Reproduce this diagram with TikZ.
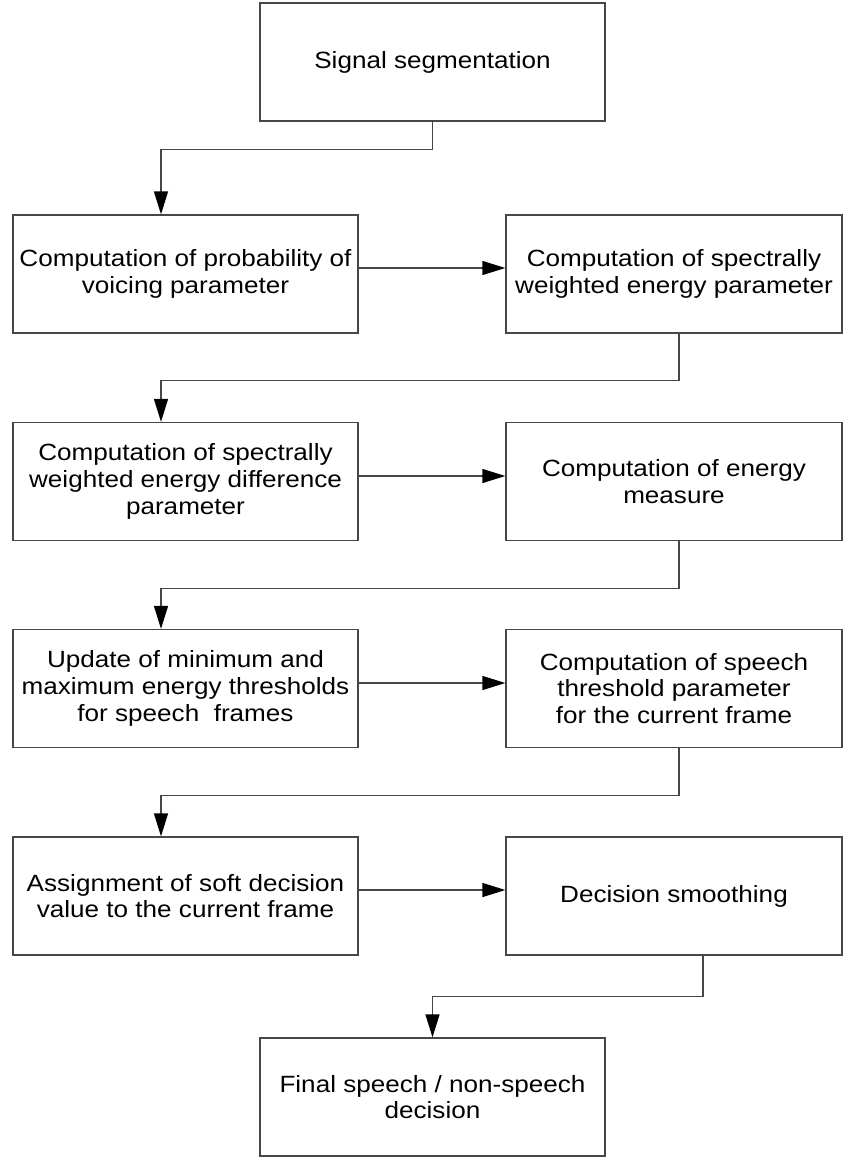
\documentclass[tikz,border=0pt]{standalone}
\usepackage{fontspec}
\setmainfont{Liberation Sans}[FakeStretch=1.11]
\usetikzlibrary{arrows.meta}
\begin{document}
\begin{tikzpicture}[x=1pt,y=-1pt,
  line width=1.3pt,
  proc/.style={draw=black!72, fill=white, rectangle, align=center, inner sep=0pt,
    font=\fontsize{23.5}{26.7}\selectfont, minimum height=118pt},
  wide/.style={minimum width=345pt},
  narrow/.style={minimum width=336pt},
  link/.style={draw=black!72},
  arr/.style={link, -{Triangle[length=23pt 0,width=14pt 0,color=black,fill=black]}}]
\useasboundingbox (0,0) rectangle (843,1157);

% process steps
\node[proc,wide]   (seg)  at (432.5,62)   {Signal segmentation};
\node[proc,wide]   (voic) at (185.5,274)  {Computation of probability of\\voicing parameter};
\node[proc,narrow] (swe)  at (674,274)    {Computation of spectrally\\weighted energy parameter};
\node[proc,wide]   (swed) at (185.5,481.5){Computation of spectrally\\weighted energy difference\\parameter};
\node[proc,narrow] (emea) at (674,481.5)  {Computation of energy\\measure};
\node[proc,wide]   (thr)  at (185.5,688.5){Update of minimum and\\maximum energy thresholds\\for speech\ \ frames};
\node[proc,narrow] (sthr) at (674,688.5)  {Computation of speech\\threshold parameter\\for the current frame};
\node[proc,wide]   (soft) at (185.5,896)  {Assignment of soft decision\\value to the current frame};
\node[proc,narrow] (smoo) at (674,896)    {Decision smoothing};
\node[proc,wide]   (fin)  at (432.5,1097) {Final speech / non-speech\\decision};

% elbow connectors between rows
\draw[arr] (seg.south) -- ++(0,28) -| ([xshift=-24.5pt]voic.north);
\draw[arr] ([xshift=5pt]swe.south) -- ++(0,47) -| ([xshift=-24.5pt]swed.north);
\draw[arr] ([xshift=5pt]emea.south) -- ++(0,47) -| ([xshift=-24.5pt]thr.north);
\draw[arr] ([xshift=5pt]sthr.south) -- ++(0,47) -| ([xshift=-24.5pt]soft.north);
\draw[arr] ([xshift=29pt]smoo.south) -- ++(0,41) -| (fin.north);

% straight connectors within rows
\draw[arr] ([yshift=6pt]voic.east) -- ([yshift=6pt]swe.west);
\draw[arr] ([yshift=5.5pt]swed.east) -- ([yshift=5.5pt]emea.west);
\draw[arr] ([yshift=5.5pt]thr.east) -- ([yshift=5.5pt]sthr.west);
\draw[arr] ([yshift=6pt]soft.east) -- ([yshift=6pt]smoo.west);
\end{tikzpicture}
\end{document}
